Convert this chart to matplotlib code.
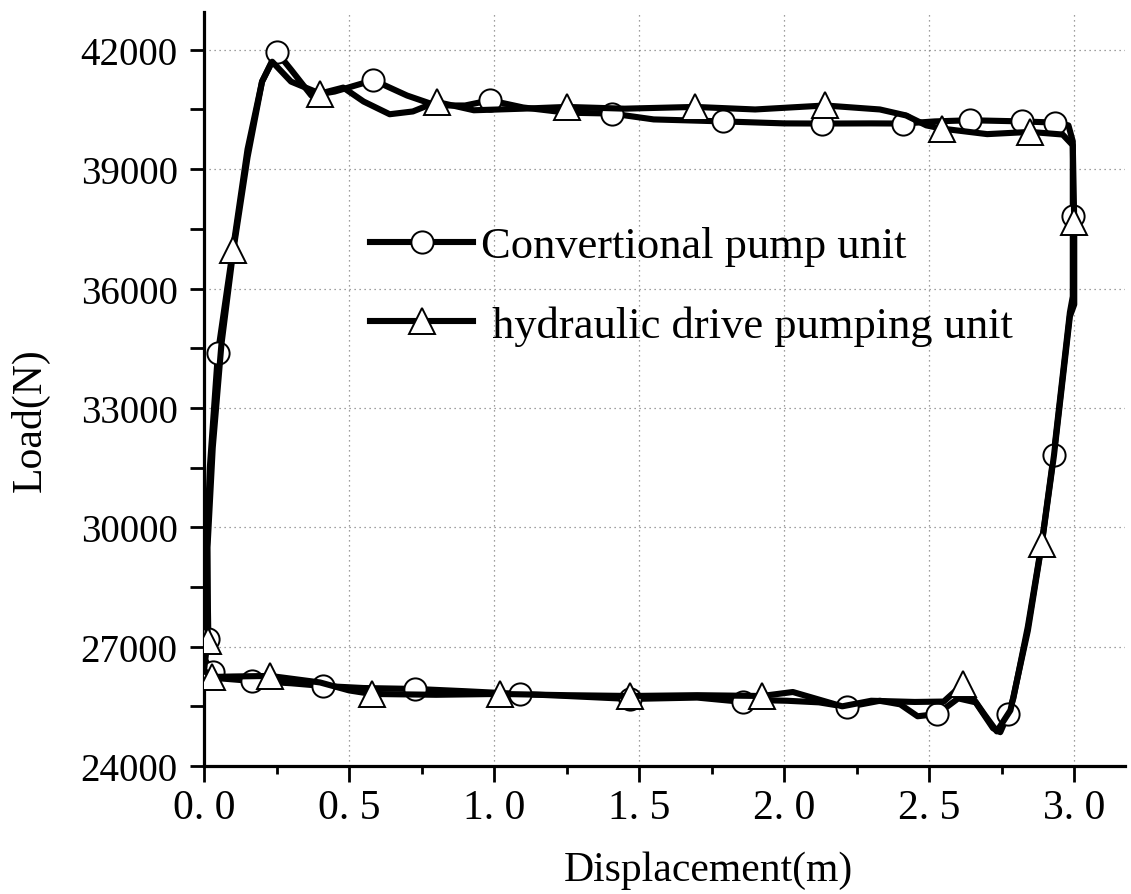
import matplotlib
matplotlib.use("Agg")
import matplotlib.pyplot as plt
from matplotlib.lines import Line2D
from matplotlib.ticker import MultipleLocator

# conventional pump unit: closed loop, start bottom-left, up, across top, down, back
conv_x = [0.000, 0.015, 0.010, 0.020, 0.048, 0.080, 0.100, 0.150, 0.200, 0.250,
          0.300, 0.370, 0.450, 0.584, 0.700, 0.800, 0.900, 0.986, 1.100, 1.250,
          1.406, 1.550, 1.790, 2.000, 2.130, 2.300, 2.410, 2.520, 2.641, 2.820,
          2.934, 2.980, 2.995, 2.995, 2.995, 2.985, 2.929, 2.888, 2.840, 2.790,
          2.772, 2.745, 2.720, 2.660, 2.600, 2.528, 2.460, 2.400, 2.330, 2.217,
          2.120, 2.010, 1.950, 1.859, 1.700, 1.469, 1.250, 1.090, 0.900, 0.727,
          0.550, 0.410, 0.300, 0.166, 0.060, 0.031, 0.000]
conv_y = [26700, 27200, 29500, 31500, 34380, 36000, 37000, 39500, 41200, 41950,
          41500, 40850, 40950, 41236, 40850, 40600, 40600, 40730, 40550, 40420,
          40397, 40250, 40200, 40150, 40146, 40150, 40146, 40200, 40229, 40200,
          40170, 40100, 39700, 37828, 35800, 35400, 31812, 29600, 27500, 25700,
          25300, 24850, 24950, 25600, 25700, 25308, 25250, 25550, 25640, 25484,
          25600, 25640, 25650, 25610, 25720, 25685, 25760, 25811, 25880, 25937,
          25960, 26012, 26080, 26138, 26200, 26364, 26700]
conv_mark_x = [0.015, 0.031, 0.048, 0.250, 0.584, 0.986, 1.406, 1.790, 2.130, 2.410,
               2.641, 2.820, 2.934, 2.995, 2.929, 2.772, 2.528, 2.217, 1.859, 1.469,
               1.090, 0.727, 0.410, 0.166]
conv_mark_y = [27200, 26364, 34380, 41950, 41236, 40730, 40397, 40200, 40146, 40146,
               40229, 40200, 40170, 37828, 31812, 25300, 25308, 25484, 25610, 25685,
               25811, 25937, 26012, 26138]

# hydraulic drive pumping unit
hyd_x = [0.000, 0.012, 0.012, 0.030, 0.060, 0.101, 0.150, 0.200, 0.235, 0.300,
         0.400, 0.480, 0.550, 0.640, 0.720, 0.802, 0.930, 1.100, 1.250, 1.450,
         1.693, 1.900, 2.141, 2.330, 2.420, 2.490, 2.543, 2.700, 2.848, 2.960,
         2.995, 3.000, 3.000, 2.985, 2.930, 2.888, 2.840, 2.780, 2.733, 2.690,
         2.617, 2.550, 2.450, 2.300, 2.200, 2.030, 1.923, 1.700, 1.469, 1.250,
         1.020, 0.800, 0.578, 0.500, 0.400, 0.228, 0.100, 0.026, 0.000]
hyd_y = [26400, 27150, 29500, 32000, 34600, 36960, 39300, 41200, 41700, 41200,
         40900, 41050, 40700, 40380, 40450, 40690, 40480, 40520, 40564, 40520,
         40564, 40500, 40600, 40500, 40350, 40100, 40020, 39880, 39936, 39870,
         39600, 37680, 35600, 35300, 31800, 29573, 27400, 25400, 24870, 25300,
         26062, 25620, 25610, 25640, 25500, 25860, 25760, 25780, 25760, 25780,
         25811, 25790, 25811, 25900, 26100, 26264, 26250, 26238, 26400]
hyd_mark_x = [0.012, 0.026, 0.101, 0.400, 0.802, 1.250, 1.693, 2.141, 2.543, 2.848,
              3.000, 2.888, 2.617, 1.923, 1.469, 1.020, 0.578, 0.228]
hyd_mark_y = [27150, 26238, 36960, 40900, 40690, 40564, 40564, 40600, 40020, 39936,
              37680, 29573, 26062, 25760, 25760, 25811, 25811, 26264]

x_ticks = [0.0, 0.5, 1.0, 1.5, 2.0, 2.5, 3.0]
x_tick_labels = ["0. 0", "0. 5", "1. 0", "1. 5", "2. 0", "2. 5", "3. 0"]
y_ticks = [24000, 27000, 30000, 33000, 36000, 39000, 42000]

plt.rcParams["font.family"] = ["Liberation Serif", "DejaVu Serif"]

fig = plt.figure(figsize=(11.31, 8.95), dpi=100)
ax = fig.add_axes([0.1804, 0.1430, 0.8143, 0.8425])

lw = 4.4
circ = dict(marker="o", markersize=16, markerfacecolor="white",
            markeredgecolor="black", markeredgewidth=1.4)
tri = dict(marker="^", markersize=19, markerfacecolor="white",
           markeredgecolor="black", markeredgewidth=1.4)

ax.plot(conv_x, conv_y, color="black", lw=lw, solid_joinstyle="round", zorder=3)
ax.plot(conv_mark_x, conv_mark_y, linestyle="none", zorder=4, **circ)
ax.plot(hyd_x, hyd_y, color="black", lw=lw, solid_joinstyle="round", zorder=5)
ax.plot(hyd_mark_x, hyd_mark_y, linestyle="none", zorder=6, **tri)

ax.set_xlim(0, 3.175)
ax.set_ylim(24000, 42950)
ax.set_xticks(x_ticks)
ax.set_xticklabels(x_tick_labels)
ax.set_yticks(y_ticks)
ax.xaxis.set_minor_locator(MultipleLocator(0.25))
ax.yaxis.set_minor_locator(MultipleLocator(1500))

ax.grid(True, which="major", color="#808080", linestyle=(0, (1, 3)), linewidth=0.9)
ax.set_axisbelow(True)

for s in ["top", "right"]:
    ax.spines[s].set_visible(False)
for s in ["left", "bottom"]:
    ax.spines[s].set_linewidth(2.3)

ax.tick_params(axis="x", which="major", direction="out", length=11.5, width=2,
               labelsize=30, pad=5)
ax.tick_params(axis="x", which="minor", direction="out", length=6, width=2)
ax.tick_params(axis="y", which="major", direction="out", length=10, width=2,
               labelsize=28, pad=9)
ax.tick_params(axis="y", which="minor", direction="out", length=10, width=2)

ax.set_xlabel("Displacement(m)", fontsize=30)
ax.xaxis.set_label_coords(0.548, -0.112)
ax.set_ylabel("Load(N)", fontsize=30)
ax.yaxis.set_label_coords(-0.167, 0.46)

handles = [
    Line2D([], [], color="black", lw=lw, **circ),
    Line2D([], [], color="black", lw=lw, **tri),
]
ax.legend(handles, ["Convertional pump unit", " hydraulic drive pumping unit"],
          loc="upper left", bbox_to_anchor=(0.327, 0.746),
          bbox_transform=fig.transFigure, frameon=False, fontsize=32,
          handlelength=2.33, handletextpad=0.18, labelspacing=0.88,
          borderpad=0, borderaxespad=0)

fig.savefig("out.png", dpi=100)
